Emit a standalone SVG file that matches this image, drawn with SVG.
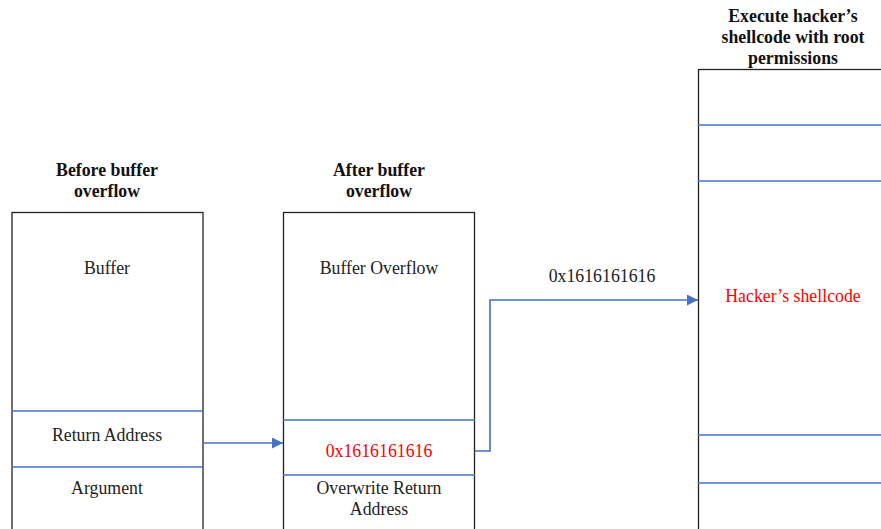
<svg xmlns="http://www.w3.org/2000/svg" width="881" height="529" viewBox="0 0 881 529" font-family="'Liberation Serif', 'DejaVu Serif', serif">
  <style>
    text { font-family: 'Liberation Serif', 'DejaVu Serif', serif; font-size: 17.8px; fill: #222; text-anchor: middle; }
    .title { font-weight: bold; fill: #111; }
    .red { fill: #ff0000; }
    .box { fill: #fff; stroke: #222; stroke-width: 1.3; }
    .div { stroke: #4472c4; stroke-width: 1.6; fill: none; }
    .conn { stroke: #4472c4; stroke-width: 1.6; fill: none; }
  </style>
  <defs>
    <marker id="arrow" viewBox="0 0 10 10" refX="10" refY="5" markerWidth="12" markerHeight="11" orient="auto" markerUnits="userSpaceOnUse">
      <path d="M0,0 L10,5 L0,10 Z" fill="#4472c4"/>
    </marker>
  </defs>
  <rect width="881" height="529" fill="#fff"/>

  <!-- Stack before the overflow -->
  <g id="before">
    <text class="title" x="107" y="176">Before buffer</text>
    <text class="title" x="107" y="197">overflow</text>
    <rect class="box" x="12" y="212.5" width="191" height="330"/>
    <line class="div" x1="12" y1="411" x2="203" y2="411"/>
    <line class="div" x1="12" y1="467" x2="203" y2="467"/>
    <text x="107" y="274">Buffer</text>
    <text x="107" y="441">Return Address</text>
    <text x="107" y="494">Argument</text>
  </g>

  <!-- Stack after the overflow -->
  <g id="after">
    <text class="title" x="379" y="176">After buffer</text>
    <text class="title" x="379" y="197">overflow</text>
    <rect class="box" x="283.5" y="212.5" width="191" height="330"/>
    <line class="div" x1="283" y1="420" x2="475" y2="420"/>
    <line class="div" x1="283" y1="475" x2="475" y2="475"/>
    <text x="379" y="274">Buffer Overflow</text>
    <text class="red" x="379" y="457">0x1616161616</text>
    <text x="379" y="494">Overwrite Return</text>
    <text x="379" y="515">Address</text>
  </g>

  <!-- Memory running the injected code -->
  <g id="shellcode">
    <text class="title" x="793" y="22">Execute hacker’s</text>
    <text class="title" x="793" y="43">shellcode with root</text>
    <text class="title" x="793" y="64">permissions</text>
    <rect class="box" x="698.5" y="69.5" width="200" height="480"/>
    <line class="div" x1="698" y1="125" x2="881" y2="125"/>
    <line class="div" x1="698" y1="181" x2="881" y2="181"/>
    <line class="div" x1="698" y1="435" x2="881" y2="435"/>
    <line class="div" x1="698" y1="483" x2="881" y2="483"/>
    <text class="red" x="793" y="302">Hacker’s shellcode</text>
  </g>

  <!-- Connectors -->
  <g id="connectors">
    <line class="conn" x1="203" y1="443" x2="283" y2="443" marker-end="url(#arrow)"/>
    <polyline class="conn" points="475,451 490,451 490,300 698,300" marker-end="url(#arrow)"/>
    <text x="602" y="282">0x1616161616</text>
  </g>
</svg>
